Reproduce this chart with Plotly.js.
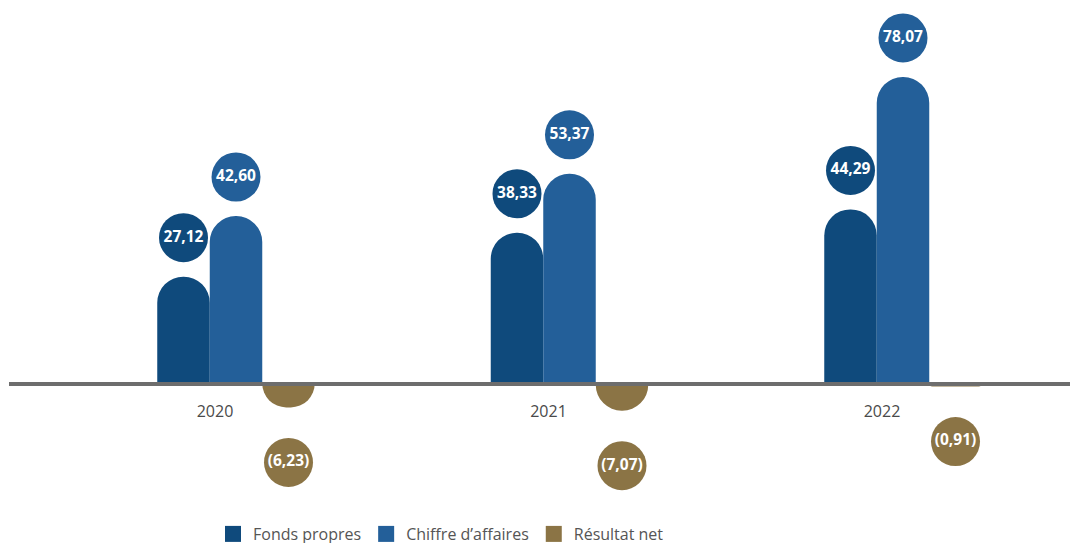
<!DOCTYPE html>
<html>
<head>
<meta charset="utf-8">
<script src="https://cdn.plot.ly/plotly-3.0.1.min.js"></script>
<style>html,body{margin:0;padding:0;background:#fff;overflow:hidden;}#chart{width:1070px;height:551px;}</style>
</head>
<body>
<div id="chart"></div>
<script>
// ---- Data ----
const years = ['2020', '2021', '2022'];
const fondsPropres = [27.12, 38.33, 44.29];
const chiffreAffaires = [42.60, 53.37, 78.07];
const resultatNet = [-6.23, -7.07, -0.91];
const seriesNames = ['Fonds propres', 'Chiffre d\u2019affaires', 'R\u00e9sultat net'];

// ---- Styling / geometry ----
const colors = ['#0f4a7c', '#235f99', '#8b7445'];
const W = 1070, H = 551;
const mL = 9, mR = 0, mT = 0, mB = 0;
const plotH = H - mT - mB;
const zeroPx = 383;              // pixel row of the zero line
const pxPerUnit = 3.92;
const yMax = (zeroPx - mT) / pxPerUnit;
const yMin = -(plotH - (zeroPx - mT)) / pxPerUnit;
const groupPx = 333.5, barPx = 52.5, firstCenterPx = 236;
const barW = barPx / groupPx;
const xRange = [-(firstCenterPx - mL) / groupPx, (W - mR - firstCenterPx) / groupPx];
const posOffsetPx = 39, negOffsetPx = 55;

const xs = years.map((_, i) => i);
const fmt = v => {
  const s = Math.abs(v).toFixed(2).replace('.', ',');
  return v < 0 ? '(' + s + ')' : s;
};

const allSeries = [fondsPropres, chiffreAffaires, resultatNet];
const traces = [];
allSeries.forEach((vals, k) => {
  traces.push({
    type: 'bar', x: xs, y: vals, name: seriesNames[k], showlegend: false,
    marker: {color: colors[k], cornerradius: '50%'},
    hoverinfo: 'skip'
  });
});
allSeries.forEach((vals, k) => {
  traces.push({
    type: 'scatter', mode: 'markers+text', showlegend: false, cliponaxis: false,
    x: xs.map(i => i + (k - 1) * barW),
    y: vals.map(v => v >= 0 ? v + posOffsetPx / pxPerUnit : v - negOffsetPx / pxPerUnit),
    text: vals.map(fmt),
    textposition: 'middle center',
    textfont: {family: 'Open Sans, sans-serif', size: 15.5, color: '#ffffff', weight: 700},
    marker: {size: 49, color: colors[k], line: {width: 0}},
    hoverinfo: 'skip'
  });
});
// legend entries
seriesNames.forEach((n, k) => {
  traces.push({
    type: 'scatter', mode: 'markers', x: [null], y: [null], name: n,
    marker: {symbol: 'square', size: 19, color: colors[k]}
  });
});

const layout = {
  width: W, height: H,
  margin: {l: mL, r: mR, t: mT, b: mB, pad: 0},
  paper_bgcolor: '#ffffff', plot_bgcolor: '#ffffff',
  barmode: 'group', bargap: 1 - 3 * barW, bargroupgap: 0,
  showlegend: true,
  font: {family: 'Open Sans, sans-serif', color: '#4a4a4a'},
  xaxis: {
    range: xRange, anchor: 'free',
    position: (plotH - (zeroPx - mT)) / plotH,
    showline: true, linecolor: '#6d6d6d', linewidth: 3.5,
    showgrid: false, zeroline: false, ticks: '',
    tickvals: xs.map(i => i - 21 / groupPx), ticktext: years,
    tickfont: {size: 16, color: '#4a4a4a'},
    ticklabelstandoff: 12, automargin: false,
    fixedrange: true
  },
  yaxis: {range: [yMin, yMax], visible: false, showgrid: false, zeroline: false, fixedrange: true},
  legend: {
    orientation: 'h', x: (441 - mL) / (W - mL - mR), xanchor: 'center',
    y: 0, yanchor: 'bottom',
    font: {size: 16, color: '#555555'}, itemwidth: 30, bgcolor: 'rgba(0,0,0,0)'
  }
};

Plotly.newPlot('chart', traces, layout, {displayModeBar: false, staticPlot: true});
</script>
</body>
</html>
